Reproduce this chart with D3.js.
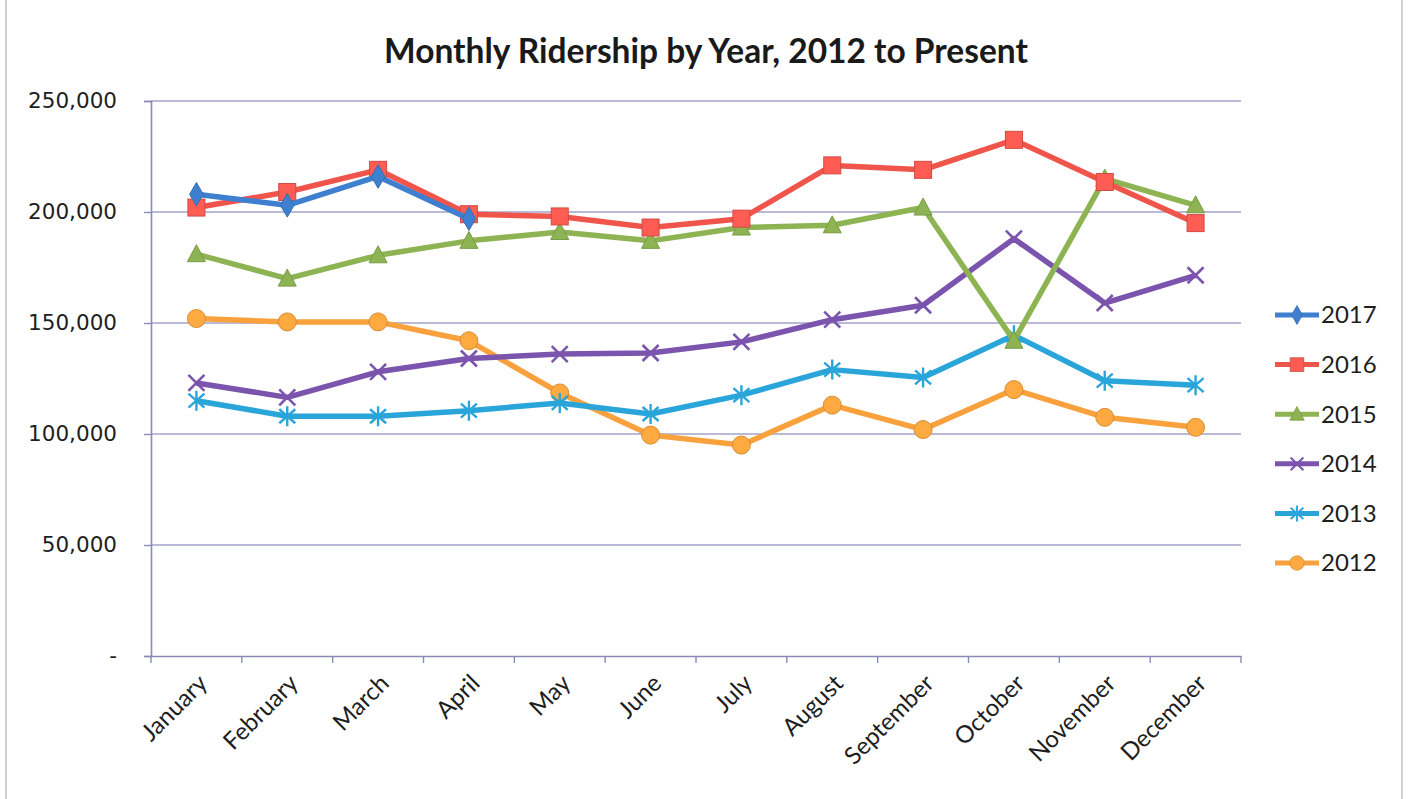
<!DOCTYPE html>
<html>
<head>
<meta charset="utf-8">
<script src="https://cdn.jsdelivr.net/npm/d3@7"></script>
<style>
  html, body { margin: 0; padding: 0; background: #fff; }
  svg { display: block; }
</style>
</head>
<body>
<svg id="chart" width="1408" height="799"></svg>
<script>
// Data
const MONTHS = ['January', 'February', 'March', 'April', 'May', 'June', 'July',
    'August', 'September', 'October', 'November', 'December'];
const Y_TICKS = [0, 50000, 100000, 150000, 200000, 250000];

const r2017 = [208000, 203000, 216000, 197000];
const r2016 = [202000, 209000, 219000, 199000, 198000, 193000, 197000, 221000, 219000, 232500, 213500, 195000];
const r2015 = [181000, 170000, 180500, 187000, 191000, 187000, 193000, 194000, 202000, 142000, 215000, 203000];
const r2014 = [123000, 116500, 128000, 134000, 136000, 136500, 141500, 151500, 158000, 188000, 159000, 171500];
const r2013 = [115000, 108000, 108000, 110500, 114000, 109000, 117500, 129000, 125500, 144500, 124000, 122000];
const r2012 = [152000, 150500, 150500, 142000, 118500, 99500, 95000, 113000, 102000, 120000, 107500, 103000];

const SERIES = [
    {name: '2017', values: r2017, color: '#3f7fcf', marker: 'diamond'},
    {name: '2016', values: r2016, color: '#f0554c', marker: 'square'},
    {name: '2015', values: r2015, color: '#8db352', marker: 'triangle'},
    {name: '2014', values: r2014, color: '#7b54ae', marker: 'x'},
    {name: '2013', values: r2013, color: '#2aa5da', marker: 'star'},
    {name: '2012', values: r2012, color: '#f9a13d', marker: 'circle'}
];

// Layout
const svg = d3.select('#chart');
const plot = {left: 151, right: 1241, top: 101, bottom: 656};

const x = d3.scalePoint().domain(MONTHS).range([plot.left, plot.right]).padding(0.5);
const xBand = d3.scaleBand().domain(MONTHS).range([plot.left, plot.right]);
const y = d3.scaleLinear().domain([0, 250000]).range([plot.bottom, plot.top]);
const fmt = d3.format(',');

// scan frame edges
svg.append('line').attr('x1', 6).attr('x2', 6).attr('y1', 0).attr('y2', 799)
    .attr('stroke', '#cfcfcf').attr('stroke-width', 2);
svg.append('line').attr('x1', 1402).attr('x2', 1402).attr('y1', 0).attr('y2', 799)
    .attr('stroke', '#d4d4d4').attr('stroke-width', 2);

// Title
svg.append('text')
    .attr('x', 706).attr('y', 63)
    .attr('text-anchor', 'middle')
    .attr('fill', '#1a1a1a')
    .style('font-family', 'Lato, "Open Sans", sans-serif')
    .style('font-weight', 'bold')
    .style('font-size', '33.5px')
    .text('Monthly Ridership by Year, 2012 to Present');

// Grid
svg.append('g')
    .selectAll('line')
    .data(Y_TICKS.filter(d => d > 0))
    .join('line')
    .attr('x1', plot.left).attr('x2', plot.right)
    .attr('y1', d => y(d)).attr('y2', d => y(d))
    .attr('stroke', '#a3a3c9').attr('stroke-width', 1.6);

// Y axis
const gy = svg.append('g').attr('transform', `translate(${plot.left},0)`)
    .call(d3.axisLeft(y).tickValues(Y_TICKS).tickSize(7).tickPadding(27)
        .tickFormat(d => d === 0 ? '-' : fmt(d)));
gy.select('.domain').attr('stroke', '#8a8ab6').attr('stroke-width', 1.6);
gy.selectAll('.tick line').attr('stroke', '#8a8ab6').attr('stroke-width', 1.4);
gy.selectAll('.tick text')
    .attr('fill', '#1e1e1e')
    .style('font-family', '"DejaVu Sans", Verdana, sans-serif')
    .style('font-size', '21.5px');

// X axis
const gx = svg.append('g').attr('transform', `translate(0,${plot.bottom})`)
    .call(d3.axisBottom(x).tickSize(0).tickPadding(14));
gx.select('.domain').attr('stroke', '#8a8ab6').attr('stroke-width', 1.6);
gx.selectAll('.tick text')
    .attr('fill', '#1e1e1e')
    .attr('text-anchor', 'end')
    .attr('dy', '0.35em')
    .attr('transform', 'translate(-4,13) rotate(-45)')
    .style('font-family', 'Lato, "Open Sans", sans-serif')
    .style('font-size', '24px');
svg.append('g')
    .selectAll('line')
    .data(MONTHS.map(m => xBand(m)).concat([plot.right]))
    .join('line')
    .attr('x1', d => d).attr('x2', d => d)
    .attr('y1', plot.bottom).attr('y2', plot.bottom + 7)
    .attr('stroke', '#8a8ab6').attr('stroke-width', 1.4);

// Markers
function drawMarker(sel, type, color) {
    const dark = d3.color(color).darker(0.4);
    if (type === 'diamond') {
        sel.append('path').attr('d', d3.symbol(d3.symbolDiamond, 160)())
            .attr('fill', color).attr('stroke', dark).attr('stroke-width', 1);
    } else if (type === 'square') {
        sel.append('rect').attr('x', -8.5).attr('y', -8.5).attr('width', 17).attr('height', 17)
            .attr('fill', d3.color(color).brighter(0.25)).attr('stroke', dark).attr('stroke-width', 1);
    } else if (type === 'triangle') {
        sel.append('path').attr('d', 'M0,-9.5L9,7.5L-9,7.5Z')
            .attr('fill', color).attr('stroke', dark).attr('stroke-width', 1);
    } else if (type === 'x') {
        sel.append('path').attr('d', 'M-8,-8L8,8M-8,8L8,-8')
            .attr('stroke', color).attr('stroke-width', 2.6).attr('fill', 'none');
    } else if (type === 'star') {
        sel.append('path').attr('d', 'M-8,-7L8,7M-8,7L8,-7M0,-10L0,10')
            .attr('stroke', color).attr('stroke-width', 2.4).attr('fill', 'none');
    } else {
        sel.append('circle').attr('r', 9)
            .attr('fill', d3.color(color).brighter(0.15)).attr('stroke', dark).attr('stroke-width', 1);
    }
}

const line = d3.line().x(d => x(d.m)).y(d => y(d.v));

// draw oldest first so newer years sit on top
const drawOrder = SERIES.slice().reverse();
drawOrder.forEach(s => {
    const pts = s.values.map((v, i) => ({m: MONTHS[i], v}));
    const g = svg.append('g');
    g.append('path').datum(pts)
        .attr('d', line)
        .attr('fill', 'none')
        .attr('stroke', s.color)
        .attr('stroke-width', 5.5)
        .attr('stroke-linejoin', 'round');
    g.selectAll('g.mk').data(pts).join('g')
        .attr('class', 'mk')
        .attr('transform', d => `translate(${x(d.m)},${y(d.v)})`)
        .each(function () { drawMarker(d3.select(this), s.marker, s.color); });
});

// Legend
const lg = svg.append('g').attr('transform', 'translate(1275,315)');
SERIES.forEach((s, i) => {
    const row = lg.append('g').attr('transform', `translate(0,${i * 49.6})`);
    row.append('line').attr('x1', 0).attr('x2', 44).attr('y1', 0).attr('y2', 0)
        .attr('stroke', s.color).attr('stroke-width', 5);
    const mk = row.append('g').attr('transform', 'translate(22,0) scale(0.8)');
    drawMarker(mk, s.marker, s.color);
    row.append('text')
        .attr('x', 46).attr('y', 0).attr('dy', '0.35em')
        .attr('fill', '#1e1e1e')
        .style('font-family', 'Lato, "Open Sans", sans-serif')
        .style('font-size', '24px')
        .text(s.name);
});
</script>
</body>
</html>
